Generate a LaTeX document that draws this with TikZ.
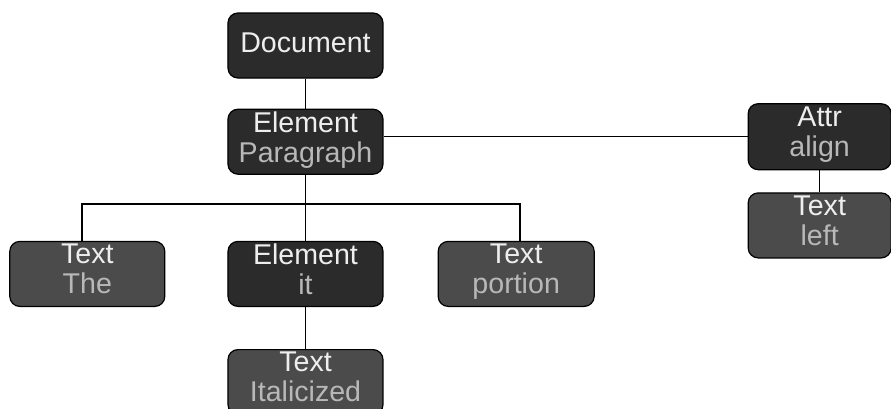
\documentclass[tikz,border=0pt]{standalone}
\usepackage{fontspec}
\setmainfont{Liberation Sans}
\usetikzlibrary{positioning}

\definecolor{boxdark}{HTML}{2B2B2B}
\definecolor{boxmid}{HTML}{4B4B4B}
\definecolor{toptxt}{HTML}{EEEEEE}
\definecolor{subtxt}{HTML}{B8B8B8}

% two lines: node kind on top, its value below in a dimmer grey
% (the strut lifts the text a little above the box middle)
\newcommand{\kindval}[2]{\textcolor{toptxt}{#1}\\\textcolor{subtxt}{#2}\rule[-5pt]{0pt}{0pt}}

\begin{document}
\begin{tikzpicture}[
  node distance=15pt and 30pt,
  box/.style={draw=black,line width=0.6pt,rounded corners=5pt,minimum width=77.5pt,minimum height=32.5pt,
    inner sep=0pt,align=center,font=\fontsize{14.3}{15}\selectfont},
  elem/.style={box,fill=boxdark},
  txt/.style={box,fill=boxmid},
  link/.style={line width=0.75pt,black}
]
\useasboundingbox (-152.75pt,22.75pt) rectangle (292.75pt,-181.25pt);

\node[elem] (doc) at (0,0) {\textcolor{toptxt}{Document}\rule[-3pt]{0pt}{0pt}};
\node[elem,below=15pt of doc] (para) {\kindval{Element}{Paragraph}};
\node[elem,right=182pt of para,yshift=2.5pt,minimum width=71.5pt,minimum height=33pt] (attr) {\kindval{Attr}{align}};
\node[txt,below=11pt of attr,minimum width=71.5pt] (left) {\kindval{Text}{left}};

\node[elem,below=33pt of para] (it) {\kindval{Element}{it}};
\node[txt,left=31pt of it] (the) {\kindval{Text}{The}};
\node[txt,right=27pt of it,minimum width=78pt] (portion) {\kindval{Text}{portion}};
\node[txt,below=21pt of it] (ital) {\kindval{Text}{Italicized}};

% tree edges
\draw[link] (doc) -- (para);
\draw[link] (para.east |- attr.west) -- (attr.west);
\draw[link] (attr) -- (left);
\draw[link] (para) -- (it);
\draw[link] (it) -- (ital);
\coordinate[below=14.5pt of para] (bus);
\draw[link] ([xshift=-2.75pt]the.north) |- (bus) -| ([xshift=2pt]portion.north);
\end{tikzpicture}
\end{document}
